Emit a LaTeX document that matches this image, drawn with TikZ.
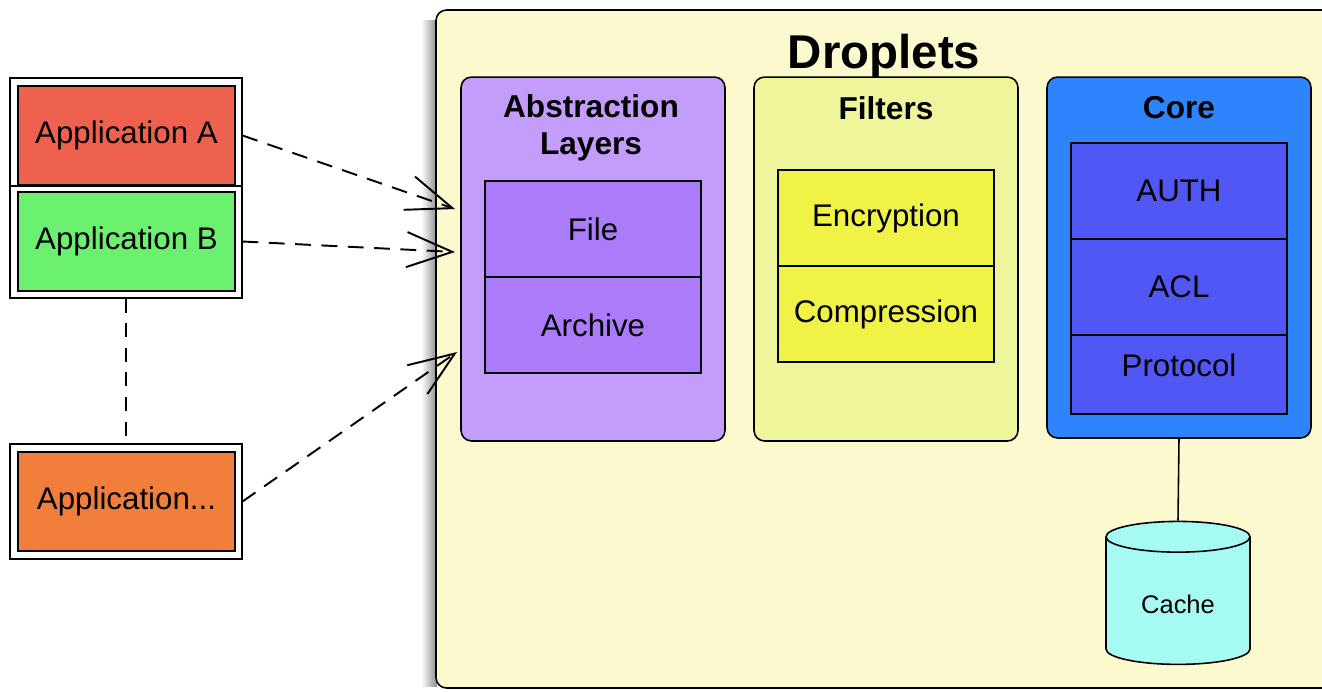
\documentclass[tikz,border=0pt]{standalone}
\usepackage{fontspec}
\setmainfont{Liberation Sans}
\usepackage{xcolor}
\usetikzlibrary{positioning,shapes.geometric,arrows.meta}
\definecolor{dropletbg}{HTML}{FDF9CE}
\definecolor{abstractpanel}{HTML}{C49CFC}
\definecolor{abstractlayer}{HTML}{AC7BF9}
\definecolor{filterpanel}{HTML}{EEF59A}
\definecolor{filterlayer}{HTML}{F0F245}
\definecolor{corepanel}{HTML}{2D84FC}
\definecolor{corelayer}{HTML}{5057F5}
\definecolor{cachefill}{HTML}{A5FAF2}
\definecolor{appred}{HTML}{EE614F}
\definecolor{appgreen}{HTML}{6BF06F}
\definecolor{apporange}{HTML}{F17E3A}
\newcommand{\boxfont}{\fontsize{17.8}{21}\selectfont}
\newcommand{\headfont}{\fontsize{18}{21}\selectfont\bfseries}
\tikzset{
	appframe/.style={draw, fill=white, line width=0.6pt, minimum width=4.64cm},
	appbox/.style={draw, line width=1.1pt, minimum width=4.34cm, minimum height=1.98cm, font=\boxfont},
	panel/.style={draw, line width=0.9pt, rounded corners=6pt, minimum width=5.28cm, minimum height=7.28cm},
	layer/.style={draw, line width=0.9pt, outer sep=0pt, minimum width=4.32cm, minimum height=1.92cm, font=\boxfont},
	call/.style={line width=1.1pt, dash pattern=on 9pt off 6pt, -{Straight Barb[length=26pt,width=20pt]}}
}
% name, frame y, frame height, box y, colour, text
\newcommand{\application}[6]{
	%frame
	\node[appframe, minimum height=#3] (#1frame) at (126,#2) {};
	%box
	\node[appbox, fill=#5] (#1) at (126.5,#4) {#6};
}

\begin{document}
\begin{tikzpicture}[x=0.02cm, y=-0.02cm]
	\useasboundingbox (0,0) rectangle (1322,691);
	%droplets
	\shade[left color=white, right color=black!45] (421,20) rectangle (437,686);
	\draw[fill=dropletbg, line width=0.9pt, rounded corners=6pt] (436,10) rectangle (1360,688);
	\node[font=\fontsize{27}{30}\selectfont\bfseries] (droplets) at (884,56) {Droplets};
	%
	%abstraction layers
	\node[panel, fill=abstractpanel] (abstraction) at (593,259) {};
	\node[font=\headfont, align=center] (abstractiontitle) at (591,128) {Abstraction\\Layers};
	\node[layer, fill=abstractlayer] (file) at (593,229) {File};
	\node[layer, fill=abstractlayer, below=0pt of file] (archive) {Archive};
	%
	%filters
	\node[panel, fill=filterpanel] (filters) at (886,259) {};
	\node[font=\headfont] (filterstitle) at (886,108) {Filters};
	\node[layer, fill=filterlayer] (encryption) at (886,218) {Encryption};
	\node[layer, fill=filterlayer, below=0pt of encryption] (compression) {Compression};
	%
	%core
	\node[panel, fill=corepanel, minimum height=7.22cm] (core) at (1179,257.5) {};
	\node[font=\headfont] (coretitle) at (1179,108) {Core};
	\node[layer, fill=corelayer] (auth) at (1179,191) {AUTH};
	\node[layer, fill=corelayer, below=0pt of auth] (acl) {ACL};
	\node[layer, fill=corelayer, minimum height=1.58cm, text depth=0.38cm, below=0pt of acl] (protocol) {Protocol};
	%
	%cache
	\node[cylinder, shape border rotate=90, shape aspect=0.36, draw, fill=cachefill, line width=0.9pt,
		minimum width=2.88cm, minimum height=2.86cm, font=\fontsize{14.5}{17}\selectfont] (cache) at (1178,604) {Cache};
	\draw[line width=0.9pt] (core.south) -- (cache.north);
	%
	%applications
	\application{appA}{132}{2.16cm}{135.5}{appred}{Application A}
	\application{appB}{242}{2.24cm}{241.5}{appgreen}{Application B}
	\application{appN}{501.5}{2.3cm}{501.5}{apporange}{Application...}
	\draw[line width=0.9pt, dash pattern=on 8pt off 6pt] (appBframe.south) -- (appNframe.north);
	%
	\coordinate (toA) at (455,209);
	\coordinate (toB) at (455,252);
	\coordinate (toN) at (457,352);
	\draw[call] (appA -| appAframe.east) -- (toA);
	\draw[call] (appB -| appBframe.east) -- (toB);
	\draw[call] (appN -| appNframe.east) -- (toN);
\end{tikzpicture}
\end{document}
